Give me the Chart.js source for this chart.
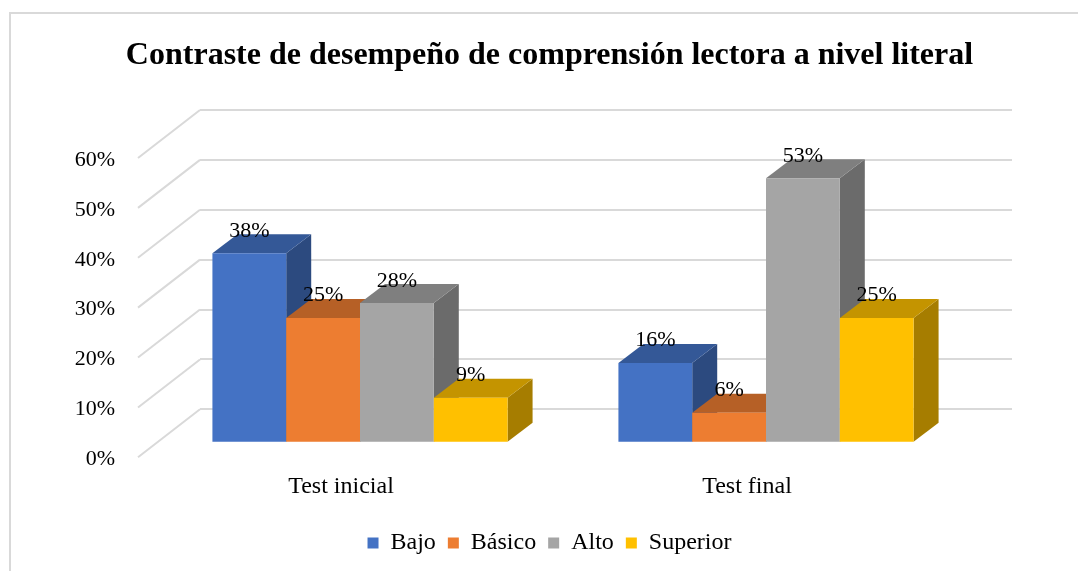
<!DOCTYPE html>
<html>
<head>
<meta charset="utf-8">
<script src="https://cdn.jsdelivr.net/npm/chart.js@4.4.1/dist/chart.umd.min.js"></script>
<style>
html, body { margin: 0; padding: 0; background: #fff; }
#wrap { width: 1078px; height: 571px; }
</style>
</head>
<body>
<div id="wrap"><canvas id="chart" width="1078" height="571"></canvas></div>
<script>
var categories = ["Test inicial", "Test final"];
var seriesNames = ["Bajo", "Básico", "Alto", "Superior"];
var bajo = [38, 16];
var basico = [25, 6];
var alto = [28, 53];
var superior = [9, 25];
var yTicks = [0, 10, 20, 30, 40, 50, 60];

var colors = ["#4472C4", "#ED7D31", "#A5A5A5", "#FFC000"];
var serif = "'Liberation Serif', 'Times New Roman', serif";
var gridColor = "#d9d9d9";

// 3D look: offsets in px
var wallDX = -62, wallDY = 48;    // back wall -> front edge of side wall
var barDX = -43, barDY = 33.4;    // back wall -> bar front face
var depthDX = 25, depthDY = -19;  // bar depth

function shade(hex, f) {
    var n = parseInt(hex.slice(1), 16);
    var r = Math.round(((n >> 16) & 255) * f);
    var g = Math.round(((n >> 8) & 255) * f);
    var b = Math.round((n & 255) * f);
    return "rgb(" + r + "," + g + "," + b + ")";
}

function poly(ctx, pts, color) {
    ctx.beginPath();
    ctx.moveTo(pts[0][0], pts[0][1]);
    for (var i = 1; i < pts.length; i++) ctx.lineTo(pts[i][0], pts[i][1]);
    ctx.closePath();
    ctx.fillStyle = color;
    ctx.fill();
}

var bars3d = {
    id: "bars3d",
    beforeDraw: function (chart) {
        var ctx = chart.ctx;
        ctx.save();
        ctx.strokeStyle = gridColor;
        ctx.lineWidth = 2;
        ctx.strokeRect(10, 13, 1200, 700);
        ctx.restore();
    },
    beforeDatasetsDraw: function (chart) {
        // side wall gridlines
        var ctx = chart.ctx, y = chart.scales.y, left = chart.chartArea.left;
        ctx.save();
        ctx.strokeStyle = gridColor;
        ctx.lineWidth = 2;
        yTicks.forEach(function (t) {
            var py = y.getPixelForValue(t);
            ctx.beginPath();
            ctx.moveTo(left, py);
            ctx.lineTo(left + wallDX, py + wallDY);
            ctx.stroke();
        });
        ctx.restore();
    },
    beforeDatasetDraw: function () {
        return false;
    },
    afterDatasetsDraw: function (chart) {
        var ctx = chart.ctx;
        var n = chart.data.datasets.length;
        ctx.save();
        for (var i = 0; i < categories.length; i++) {
            for (var d = 0; d < n; d++) {
                var bar = chart.getDatasetMeta(d).data[i];
                var L = bar.x - bar.width / 2 + barDX;
                var R = bar.x + bar.width / 2 + barDX;
                var T = bar.y + barDY;
                var B = bar.base + barDY;
                var c = colors[d];
                poly(ctx, [[R, T], [R + depthDX, T + depthDY], [R + depthDX, B + depthDY], [R, B]], shade(c, 0.65));
                poly(ctx, [[L, T], [R, T], [R + depthDX, T + depthDY], [L + depthDX, T + depthDY]], shade(c, 0.77));
                poly(ctx, [[L, T], [R, T], [R, B], [L, B]], c);
            }
        }
        ctx.font = "22px " + serif;
        ctx.fillStyle = "#000";
        ctx.textAlign = "center";
        ctx.textBaseline = "alphabetic";
        for (var i2 = 0; i2 < categories.length; i2++) {
            for (var d2 = 0; d2 < n; d2++) {
                var b2 = chart.getDatasetMeta(d2).data[i2];
                var v = chart.data.datasets[d2].data[i2];
                ctx.fillText(v + "%", b2.x + barDX, b2.y + barDY - 16.5);
            }
        }
        ctx.restore();
    }
};

var seriesData = [bajo, basico, alto, superior];
var datasets = seriesNames.map(function (name, k) {
    return {
        label: name,
        data: seriesData[k],
        backgroundColor: colors[k],
        borderWidth: 0,
        barPercentage: 1,
        categoryPercentage: 0.727
    };
});

var ctx = document.getElementById("chart").getContext("2d");
var myChart = new Chart(ctx, {
    type: "bar",
    data: { labels: categories, datasets: datasets },
    options: {
        responsive: false,
        animation: false,
        layout: { padding: { left: 21, right: 0, top: 0, bottom: 6 } },
        plugins: {
            tooltip: { enabled: false },
            title: {
                display: true,
                text: "Contraste de desempeño de comprensión lectora a nivel literal",
                font: { family: serif, size: 32, weight: "bold" },
                color: "#000",
                padding: { top: 37, bottom: 34.6 }
            },
            legend: {
                position: "bottom",
                labels: {
                    boxWidth: 11,
                    boxHeight: 11,
                    padding: 12,
                    color: "#000",
                    font: { family: serif, size: 24 }
                }
            }
        },
        scales: {
            x: {
                grid: { display: false, drawTicks: false },
                border: { display: false },
                ticks: {
                    color: "#000",
                    font: { family: serif, size: 24 },
                    padding: 63,
                    labelOffset: wallDX,
                    maxRotation: 0
                },
                afterFit: function (s) { s.height = 109.7; }
            },
            y: {
                min: 0,
                max: 60,
                ticks: {
                    stepSize: 10,
                    color: "#000",
                    font: { family: serif, size: 22 },
                    padding: 85,
                    labelOffset: 50,
                    callback: function (v) { return v + "%"; }
                },
                grid: { color: gridColor, lineWidth: 2, drawTicks: false },
                border: { display: false },
                afterFit: function (s) { s.width = 179; }
            },
            y2: {
                type: "linear",
                position: "right",
                grid: { display: false, drawTicks: false },
                ticks: { display: false },
                border: { display: false },
                afterFit: function (s) { s.width = 66; }
            }
        }
    },
    plugins: [bars3d]
});
</script>
</body>
</html>
